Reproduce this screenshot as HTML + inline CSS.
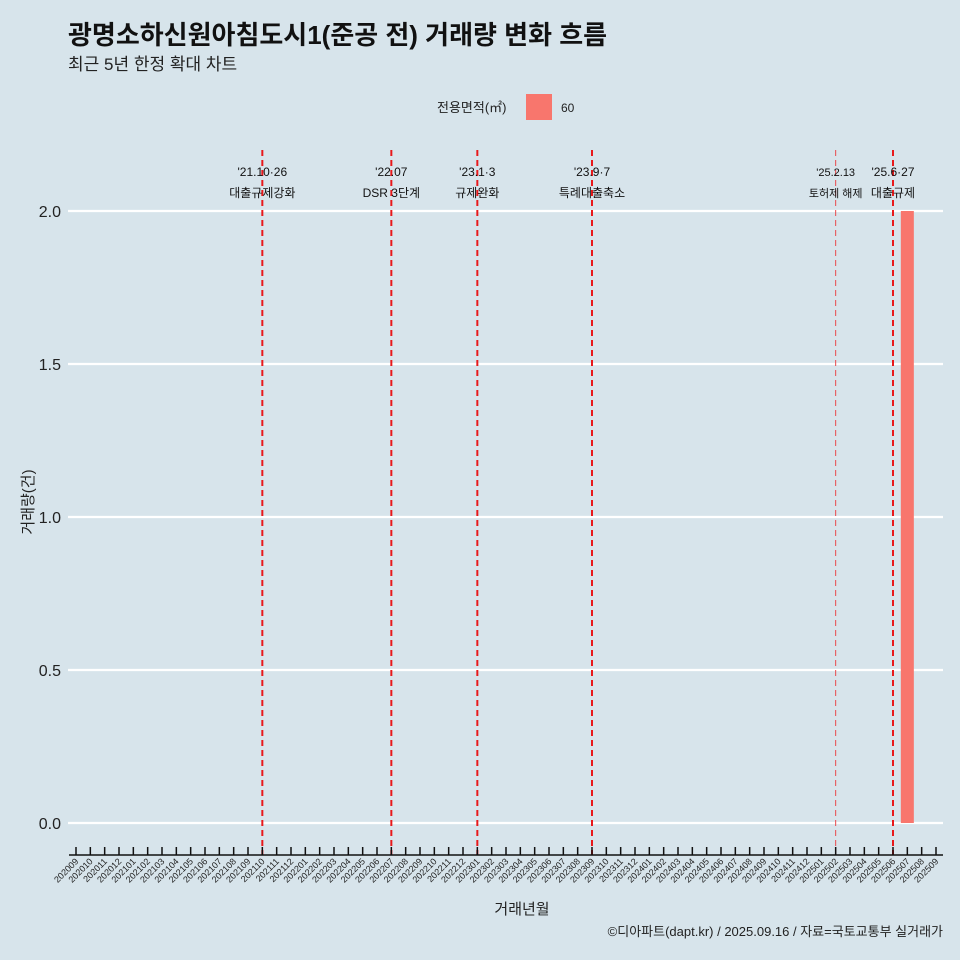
<!DOCTYPE html>
<html><head><meta charset="utf-8"><style>
html,body{margin:0;padding:0;overflow:hidden;width:960px;height:960px;background:#d7e4eb;font-family:"Liberation Sans","Noto Sans CJK KR",sans-serif}
svg{display:block}
</style></head><body>
<svg width="960" height="960" xmlns="http://www.w3.org/2000/svg" font-family="Liberation Sans, Noto Sans CJK KR, sans-serif">
<rect width="960" height="960" fill="#d7e4eb"/>
<text x="68" y="44" font-size="26" font-weight="bold" fill="#111">광명소하신원아침도시1(준공 전) 거래량 변화 흐름</text>
<text x="68" y="70" font-size="17" fill="#222">최근 5년 한정 확대 차트</text>
<g>
<text x="437" y="112" font-size="13" fill="#222">전용면적(㎡)</text>
<rect x="526" y="94" width="26" height="26" fill="#f8766d"/>
<text x="561" y="112" font-size="12" fill="#222">60</text>
</g>
<g id="grid"></g><g id="marks"></g><g id="xaxis"></g>
<text x="522" y="914" font-size="15" text-anchor="middle" fill="#222">거래년월</text>
<text transform="translate(33,502) rotate(-90)" font-size="15" text-anchor="middle" fill="#222">거래량(건)</text>
<text x="943" y="936" font-size="13" text-anchor="end" fill="#222">©디아파트(dapt.kr) / 2025.09.16 / 자료=국토교통부 실거래가</text>
</svg>
<script>
const categories=[];
for(let y=2020,m=9;!(y===2025&&m>9);){categories.push(''+y+(m<10?'0':'')+m);m++;if(m>12){m=1;y++;}}
const barMonths=["202507"];
const barValues=[2];
const yTicks=[0,0.5,1,1.5,2];
const yTickLabels=["0.0","0.5","1.0","1.5","2.0"];
const eventMonths=["202110","202207","202301","202309","202502","202506"];
const eventDates=["'21.10·26","'22.07","'23.1·3","'23.9·7","'25.2.13","'25.6·27"];
const eventLabels=["대출규제강화","DSR 3단계","규제완화","특례대출축소","토허제 해제","대출규제"];
const NS="http://www.w3.org/2000/svg";
const X0=76,DX=(936-76)/60;
const xScale=c=>X0+categories.indexOf(c)*DX;
const yScale=v=>823-v*306;
function mk(t,a,p){const e=document.createElementNS(NS,t);for(const k in a)e.setAttribute(k,a[k]);document.getElementById(p).appendChild(e);return e;}
yTicks.forEach((v,i)=>{
 const l=mk('line',{x1:68,x2:943,y1:yScale(v),y2:yScale(v),stroke:'#fff','stroke-width':2.2},'grid');
 
 
 const t=mk('text',{x:61,y:yScale(v)+6,'font-size':16,'text-anchor':'end',fill:'#222'},'grid');
 t.textContent=yTickLabels[i];
 
 
});
barMonths.forEach((c,i)=>{
 const r=mk('rect',{x:xScale(c)-6.5,y:yScale(barValues[i]),width:13,height:yScale(0)-yScale(barValues[i]),fill:'#f8766d'},'marks');
 
 
});
eventMonths.forEach((c,i)=>{
 const x=xScale(c),thin=c==="202502";
 const l=mk('line',{x1:x,x2:x,y1:150,y2:855,stroke:thin?'#e8494b':'#e8191b','stroke-width':thin?1:2,'stroke-dasharray':'6,4'},'marks');
 
 
 const fs=thin?11:12;
 const d=mk('text',{x:x,y:176,'font-size':fs,'text-anchor':'middle',fill:'#111'},'marks');
 d.textContent=eventDates[i];
 
 
 const t=mk('text',{x:x,y:197,'font-size':fs,'text-anchor':'middle',fill:'#111'},'marks');
 t.textContent=eventLabels[i];
 
 
});
const ax=mk('line',{x1:69,x2:943,y1:855,y2:855,stroke:'#111','stroke-width':1.5},'xaxis');


categories.forEach(c=>{
 const x=xScale(c);
 const tk=mk('line',{x1:x,x2:x,y1:847,y2:855,stroke:'#111','stroke-width':1.5},'xaxis');
 
 
 const t=mk('text',{transform:`translate(${x+3},${862}) rotate(-45)`,'font-size':9,'text-anchor':'end',fill:'#222'},'xaxis');
 t.textContent=c;
 
 
});
</script>
</body></html>
